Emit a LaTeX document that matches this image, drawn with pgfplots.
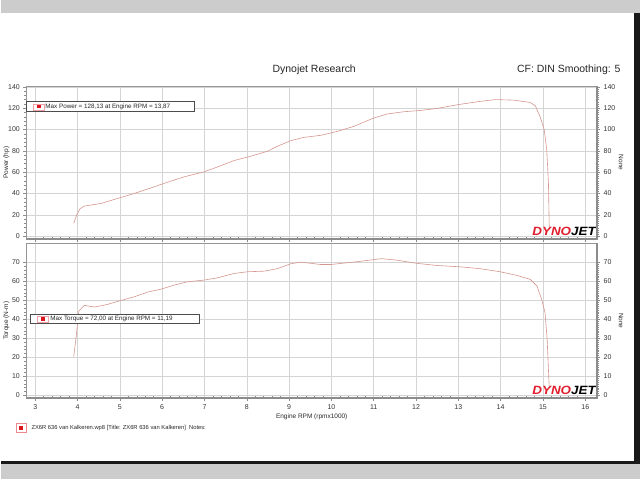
\documentclass[border=0pt]{standalone}
\usepackage{fontspec}
\setmainfont{Liberation Sans}
\usepackage{pgfplots}
\usepackage{pgfplotstable}
\pgfplotsset{compat=1.18}

\definecolor{curve}{RGB}{212,150,145}
\definecolor{gridc}{RGB}{212,212,212}
\definecolor{axisc}{RGB}{150,150,150}
\definecolor{bandc}{RGB}{140,140,140}
\definecolor{screen}{RGB}{204,204,204}
\definecolor{logored}{RGB}{225,30,45}
\definecolor{markred}{RGB}{220,20,30}

% power (hp) vs engine rpm (x1000)
\pgfplotstableread{
rpm   hp
3.91  12.1
3.98  20.0
4.06  25.8
4.16  28.3
4.56  30.8
4.95  35.5
5.34  40.1
5.74  45.4
6.13  50.7
6.52  55.7
6.99  60.4
7.31  65.0
7.70  71.0
8.09  75.0
8.49  79.7
8.72  84.3
9.04  89.6
9.35  92.7
9.75  94.6
10.14 98.3
10.53 103.0
11.00 110.8
11.32 114.6
11.71 116.7
12.10 117.9
12.50 119.8
12.97 123.2
13.44 126.0
13.87 128.1
14.30 127.6
14.70 125.4
14.82 122.3
14.93 112.3
15.03 99.9
15.09 81.2
15.13 50.0
15.15 6.5
}\powerdata

% torque (N-m) vs engine rpm (x1000)
\pgfplotstableread{
rpm   nm
3.91  20.4
3.97  31.2
4.03  44.4
4.16  47.4
4.40  46.5
4.71  47.9
5.03  50.0
5.34  51.9
5.66  54.4
5.97  55.9
6.29  58.1
6.60  59.8
6.99  60.7
7.31  61.9
7.70  64.2
8.02  65.1
8.41  65.4
8.72  66.7
9.04  69.3
9.27  70.2
9.75  68.9
9.98  68.9
10.53 70.2
11.19 72.0
11.55 71.2
12.03 69.5
12.50 68.4
13.05 67.7
13.52 66.7
13.99 65.1
14.38 63.2
14.70 61.1
14.86 57.5
14.97 50.5
15.05 43.5
15.10 29.5
15.14 8.4
15.15 4.0
}\torquedata

\pgfplotsset{
  dyno/.style={
    scale only axis, width=572pt,
    xmin=2.79, xmax=16.28,
    xtick={3,...,16}, minor x tick num=4,
    xmajorgrids, ymajorgrids,
    major grid style={gridc, line width=0.5pt},
    axis line style={axisc, line width=0.6pt},
    tick style={bandc, line width=0.5pt},
    tick align=outside,
    major tick length=3pt, minor tick length=2pt,
    minor x tick style={yshift=2.5pt},
    xtick pos=bottom, ytick pos=left,
    ticklabel style={font=\fontsize{7}{8}\selectfont, text=black!80},
    /pgf/number format/assume math mode=true,
    label style={font=\fontsize{6.5}{7}\selectfont, text=black!85},
    ylabel style={at={(axis description cs:-0.035,0.5)}, anchor=center},
  },
  dynoright/.style={
    scale only axis, width=572pt,
    xmin=2.79, xmax=16.28,
    axis x line=none, axis y line*=right,
    axis line style={bandc, line width=2pt},
    tick style={bandc, line width=0.4pt},
    tick align=outside,
    major tick length=3pt, minor tick length=2pt,
    ticklabel style={font=\fontsize{7}{8}\selectfont, text=black!80},
    /pgf/number format/assume math mode=true,
    ylabel=None,
    ylabel style={font=\fontsize{6.5}{7}\selectfont, text=black!85, rotate=180,
      at={(axis description cs:1.042,0.5)}, anchor=center},
  },
}

\begin{document}
\begin{tikzpicture}
% screen frame
\path (0pt,0pt) rectangle (640pt,480pt);
\fill[screen] (0pt,467pt) rectangle (640pt,480pt);
\fill[screen] (0pt,0pt) rectangle (640pt,15pt);
\fill[black!90] (0pt,15pt) rectangle (640pt,18pt);
\fill[black!90] (634pt,15pt) rectangle (640pt,467pt);

% titles
\node[font=\fontsize{10.5}{12}\selectfont, text=black!85] at (313.5pt,410pt) {Dynojet Research};
\node[font=\fontsize{10.5}{12}\selectfont, text=black!85, anchor=east] at (624pt,410pt) {CF: DIN Smoothing: 5};

% ---- power panel ----
\begin{axis}[dyno, at={(25pt,240pt)}, anchor=south west, height=154pt,
    ymin=-3, ymax=141, ytick={0,20,...,140}, minor y tick num=4,
    xticklabels={},
    ylabel={Power (hp)}]
  \addplot[curve, line width=0.6pt, no marks] table[x=rpm, y=hp] {\powerdata};
  \draw[bandc, line width=3pt] (rel axis cs:0,0) -- (rel axis cs:1,0);
  \node[font=\bfseries\itshape\fontsize{12}{12}\selectfont, anchor=south east, xscale=1.12, inner sep=0pt]
    at (rel axis cs:0.998,0.025) {\textcolor{logored}{DYNO}\textcolor{black}{JET}};
\end{axis}
\begin{axis}[dynoright, at={(25pt,240pt)}, anchor=south west, height=154pt,
    ymin=-3, ymax=141, ytick={0,20,...,140}, minor y tick num=9]
  \addplot[draw=none, forget plot] coordinates {(3,0)};
\end{axis}

% ---- torque panel ----
\begin{axis}[dyno, at={(25pt,81pt)}, anchor=south west, height=155pt,
    ymin=-1.5, ymax=80, ytick={0,10,...,70}, minor y tick num=4,
    xlabel={Engine RPM (rpmx1000)},
    xlabel style={yshift=3pt},
    ylabel={Torque (N-m)}]
  \addplot[curve, line width=0.6pt, no marks] table[x=rpm, y=nm] {\torquedata};
  \draw[bandc, line width=1.5pt] (rel axis cs:0,0) -- (rel axis cs:1,0);
  \node[font=\bfseries\itshape\fontsize{12}{12}\selectfont, anchor=south east, xscale=1.12, inner sep=0pt]
    at (rel axis cs:0.998,0.02) {\textcolor{logored}{DYNO}\textcolor{black}{JET}};
\end{axis}
\begin{axis}[dynoright, at={(25pt,81pt)}, anchor=south west, height=155pt,
    ymin=-1.5, ymax=80, ytick={0,10,...,70}, minor y tick num=9]
  \addplot[draw=none, forget plot] coordinates {(3,0)};
\end{axis}

% max value boxes
\draw[black!70, line width=0.6pt, fill=white] (25pt,378pt) rectangle (193pt,368pt);
\draw[markred!40, fill=white] (32pt,376pt) rectangle (43pt,370pt);
\fill[markred] (35.5pt,374.7pt) rectangle (39.5pt,371.3pt);
\node[anchor=west, inner sep=0pt, font=\fontsize{6.3}{7}\selectfont, text=black!85] at (44pt,373pt)
  {Max Power = 128,13 at Engine RPM = 13,87};

\draw[black!70, line width=0.6pt, fill=white] (29pt,165pt) rectangle (198pt,156pt);
\draw[markred!40, fill=white] (36pt,163.5pt) rectangle (47pt,157.5pt);
\fill[markred] (39.5pt,162.2pt) rectangle (43.5pt,158.8pt);
\node[anchor=west, inner sep=0pt, font=\fontsize{6.3}{7}\selectfont, text=black!85] at (49pt,160.5pt)
  {Max Torque = 72,00 at Engine RPM = 11,19};

% run legend
\draw[markred!50, fill=white] (15pt,56pt) rectangle (25pt,47pt);
\fill[markred] (18pt,53.5pt) rectangle (22pt,49.5pt);
\node[anchor=west, inner sep=0pt, font=\fontsize{5.8}{7}\selectfont, text=black!85] at (30pt,51.5pt)
  {ZX6R 636 van Kalkeren.wp8 [Title: ZX6R 636 van Kalkeren]\ \ Notes:};
\end{tikzpicture}
\end{document}
